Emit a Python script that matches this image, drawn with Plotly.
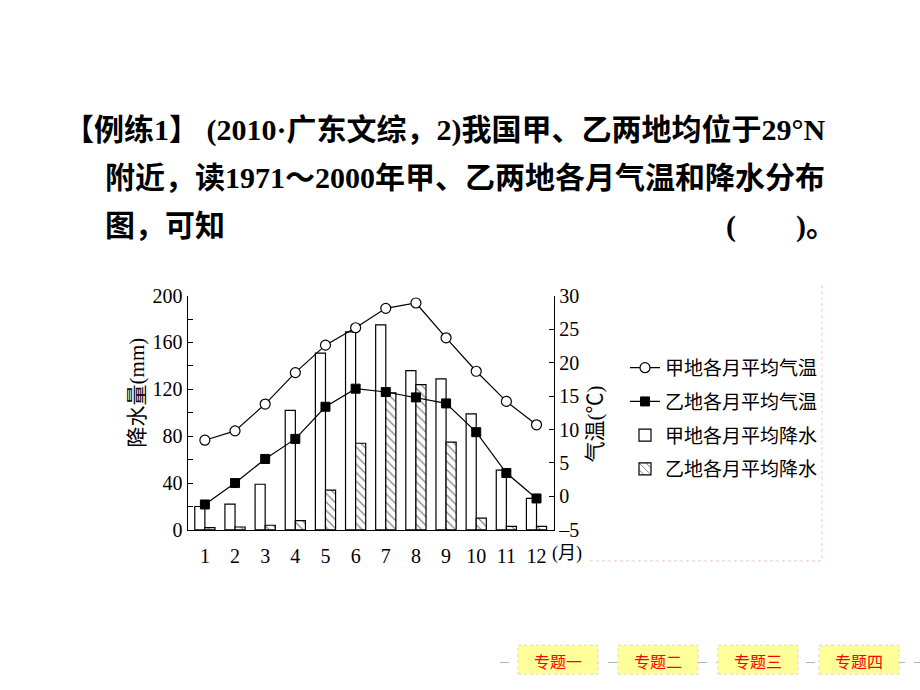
import plotly.graph_objects as go

# ---- data ----
months = list(range(1, 13))
month_labels = ["1", "2", "3", "4", "5", "6", "7", "8", "9", "10", "11", "12"]
jia_precip = [20, 22, 39, 102, 151, 169, 175, 136, 129, 99, 51, 27]
yi_precip = [2, 2.5, 4, 8, 34, 74, 117, 124, 75, 10, 3, 3]
jia_temp = [8.4, 9.8, 13.8, 18.5, 22.6, 25.2, 28.1, 28.9, 23.7, 18.7, 14.2, 10.7]
yi_temp = [-1.2, 2.0, 5.6, 8.6, 13.4, 16.1, 15.6, 14.8, 13.9, 9.6, 3.5, -0.3]
series_names = ["甲地各月平均气温", "乙地各月平均气温", "甲地各月平均降水", "乙地各月平均降水"]
precip_ticks = [0, 40, 80, 120, 160, 200]
temp_ticks = [-5, 0, 5, 10, 15, 20, 25, 30]

W, H = 920, 690
def px(x):
    return x / W
def py(y):
    return 1 - y / H

SERIF = "Liberation Serif, Times New Roman, serif"
CJK = "Noto Sans CJK SC, sans-serif"
MIX = "Liberation Serif, Noto Sans CJK SC, serif"

fig = go.Figure()

fig.add_trace(go.Scatter(
    x=months, y=jia_temp, name=series_names[0], yaxis="y2", mode="lines+markers",
    line=dict(color="black", width=1.2),
    marker=dict(symbol="circle", size=10, color="white", line=dict(color="black", width=1.2)),
    legendgroup="a"))
fig.add_trace(go.Scatter(
    x=months, y=yi_temp, name=series_names[1], yaxis="y2", mode="lines+markers",
    line=dict(color="black", width=1.2),
    marker=dict(symbol="square", size=9, color="black", line=dict(color="black", width=1)),
    legendgroup="b"))
fig.add_trace(go.Bar(
    x=months, y=jia_precip, name=series_names[2], yaxis="y",
    marker=dict(color="white", line=dict(color="black", width=1.2)),
    legendgroup="c"))
fig.add_trace(go.Bar(
    x=months, y=yi_precip, name=series_names[3], yaxis="y",
    marker=dict(color="white", line=dict(color="black", width=1.2),
                pattern=dict(shape="\\", fgcolor="black", bgcolor="white", size=6, solidity=0.2)),
    legendgroup="d"))

x0, x1 = px(187.7), px(554)
y0, y1 = py(536), py(294)

fig.update_layout(
    width=W, height=H, autosize=False,
    margin=dict(l=0, r=0, t=0, b=0),
    paper_bgcolor="white", plot_bgcolor="white",
    barmode="group", bargap=0.33, bargroupgap=0,
    showlegend=True,
    legend=dict(x=px(625), y=py(349), xanchor="left", yanchor="top",
                font=dict(family=CJK, size=19, color="black"),
                traceorder="grouped", tracegroupgap=6, itemwidth=30,
                bgcolor="rgba(0,0,0,0)"),
    xaxis=dict(domain=[x0, x1], range=[0.43, 12.58], tickmode="array",
               tickvals=months, ticktext=month_labels, showline=True,
               linecolor="black", linewidth=1.3, ticks="", showgrid=False,
               zeroline=False, ticklabelstandoff=8,
               tickfont=dict(family=SERIF, size=20, color="black")),
    yaxis=dict(domain=[y0, y1], range=[0, 200], tickmode="array", tickvals=precip_ticks,
               showline=True, linecolor="black", linewidth=1.3, ticks="inside",
               ticklen=5, tickcolor="black", showgrid=False, zeroline=False,
               minor=dict(tickmode="linear", tick0=0, dtick=20, ticks="inside", ticklen=5, tickcolor="black"),
               tickfont=dict(family=SERIF, size=20, color="black")),
    yaxis2=dict(overlaying="y", side="right", anchor="x", range=[-5, 30], tickmode="array",
                tickvals=temp_ticks, ticktext=[("\u2013" + str(-t)) if t < 0 else str(t) for t in temp_ticks],
                showline=True, linecolor="black", linewidth=1.3, ticks="inside",
                ticklen=5, tickcolor="black", showgrid=False, zeroline=False,
                tickfont=dict(family=SERIF, size=20, color="black")),
)

def ann(x, y, text, size, family=MIX, color="black", xanchor="center", angle=0):
    return dict(x=px(x), y=py(y), xref="paper", yref="paper", text=text, textangle=angle,
                xanchor=xanchor, yanchor="middle", showarrow=False,
                font=dict(family=family, size=size, color=color))

annotations = []
# axis titles
annotations.append(ann(137, 394, "降水量(mm)", 21, angle=-90))
annotations.append(ann(595, 427, "气温(℃)", 21, angle=-90))
annotations.append(ann(567, 560, "(月)", 18))

# question text
annotations.append(ann(62, 123, "<b>【例练1】 (2010·广东文综，2)我国甲、乙两地均位于29°N</b>", 30, xanchor="left"))
annotations.append(ann(103, 172, "<b>附近，读1971～2000年甲、乙两地各月气温和降水分布</b>", 30, xanchor="left"))
annotations.append(ann(103, 222, "<b>图，可知</b>", 30, xanchor="left"))
annotations.append(ann(838, 222, "<b>(　　)。</b>", 30, xanchor="right"))

shapes = []
# image frame (dotted pink)
shapes.append(dict(type="line", xref="paper", yref="paper", x0=px(822), x1=px(822), y0=py(283), y1=py(568),
                   line=dict(color="#e6c6dc", width=1, dash="dot")))
shapes.append(dict(type="line", xref="paper", yref="paper", x0=px(590), x1=px(822), y0=py(568), y1=py(568),
                   line=dict(color="#e6c6dc", width=1, dash="dot")))
# bottom navigation
shapes.append(dict(type="line", xref="paper", yref="paper", x0=px(500), x1=px(920), y0=py(673), y1=py(673),
                   line=dict(color="#b0b0b0", width=1, dash="dash"), layer="below"))
buttons = [("专题一", 518, 598), ("专题二", 618, 698), ("专题三", 718, 798), ("专题四", 819, 899)]
for label, bx0, bx1 in buttons:
    shapes.append(dict(type="rect", xref="paper", yref="paper", x0=px(bx0), x1=px(bx1),
                       y0=py(685), y1=py(655), fillcolor="#ffff99",
                       line=dict(color="#d8d8c8", width=1, dash="dot")))
    annotations.append(ann((bx0 + bx1) / 2, 671, label, 16, family=CJK, color="#ff0000"))

fig.update_layout(annotations=annotations, shapes=shapes)
fig.write_html("out.html")
